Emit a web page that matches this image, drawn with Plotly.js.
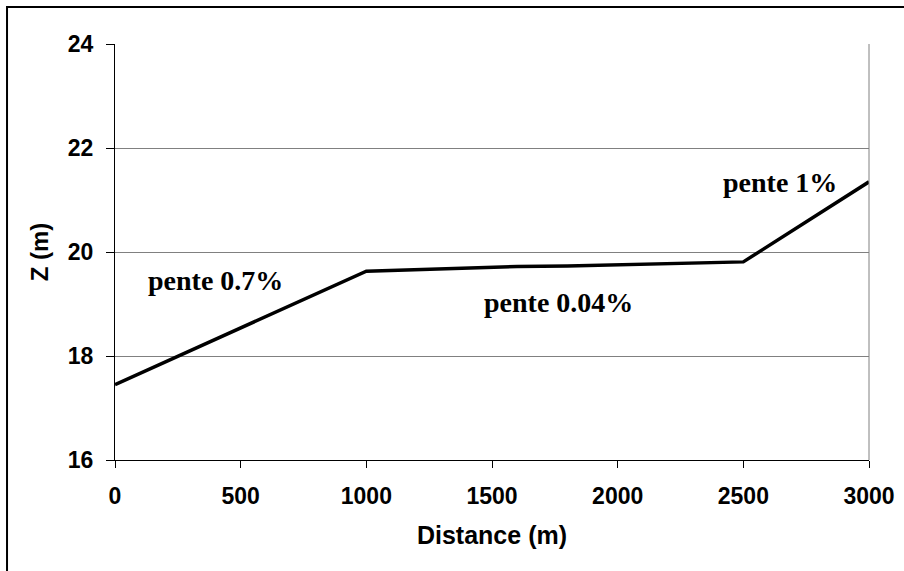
<!DOCTYPE html>
<html>
<head>
<meta charset="utf-8">
<script src="https://cdn.plot.ly/plotly-3.0.1.min.js"></script>
<style>html,body{margin:0;padding:0;background:#fff;}#chart{width:904px;height:571px;}</style>
</head>
<body>
<div id="chart"></div>
<script>
var distance = [0, 1000, 1600, 1800, 2500, 3000];
var zValues = [17.45, 19.63, 19.72, 19.73, 19.81, 21.35];
var xTicks = [0, 500, 1000, 1500, 2000, 2500, 3000];
var yTicks = [16, 18, 20, 22, 24];
var labelText = ["pente 0.7%", "pente 0.04%", "pente 1%"];
var labelX = [400, 1766, 2646];
var labelY = [19.46, 19.02, 21.33];

var annFont = {family: "Liberation Serif, Times New Roman, serif", size: 28, color: "#000"};
var annotations = labelText.map(function (t, i) {
  return {x: labelX[i], y: labelY[i], xref: "x", yref: "y", text: "<b>" + t + "</b>",
          showarrow: false, font: annFont, xanchor: "center", yanchor: "middle"};
});

var layout = {
  width: 904, height: 571,
  margin: {l: 115, r: 35, t: 44, b: 111},
  paper_bgcolor: "#fff", plot_bgcolor: "#fff",
  showlegend: false,
  font: {family: "Liberation Sans, Arial, sans-serif", color: "#000"},
  xaxis: {
    range: [0, 3000], tickvals: xTicks, ticktext: xTicks.map(String),
    showgrid: false, zeroline: false,
    showline: true, linecolor: "#000", linewidth: 1,
    ticks: "outside", ticklen: 7, tickcolor: "#000", tickwidth: 1,
    tickfont: {size: 23, family: "Liberation Sans, Arial, sans-serif", weight: "bold"},
    ticklabelstandoff: 8,
    title: {text: "<b>Distance (m)</b>", font: {size: 25}, standoff: 18}
  },
  yaxis: {
    range: [16, 24], tickvals: yTicks, ticktext: yTicks.map(String),
    showgrid: true, gridcolor: "#808080", gridwidth: 1, zeroline: false,
    showline: true, linecolor: "#000", linewidth: 1,
    ticks: "outside", ticklen: 8, tickcolor: "#000", tickwidth: 1,
    tickfont: {size: 23, family: "Liberation Sans, Arial, sans-serif", weight: "bold"},
    ticklabelstandoff: 8,
    title: {text: "<b>Z (m)</b>", font: {size: 24}, standoff: 12}
  },
  annotations: annotations,
  shapes: [
    {type: "line", xref: "paper", yref: "paper", x0: 1, x1: 1, y0: 0, y1: 1,
     line: {color: "#808080", width: 1}},
    {type: "rect", xref: "paper", yref: "paper", x0: -0.1432, x1: 1.15, y0: -0.4, y1: 1.089,
     line: {color: "#000", width: 2}, fillcolor: "rgba(0,0,0,0)"}
  ]
};

var trace = {
  x: distance, y: zValues, type: "scatter", mode: "lines",
  line: {color: "#000", width: 3.5}, hoverinfo: "skip"
};

Plotly.newPlot("chart", [trace], layout, {displayModeBar: false, staticPlot: true});
</script>
</body>
</html>
